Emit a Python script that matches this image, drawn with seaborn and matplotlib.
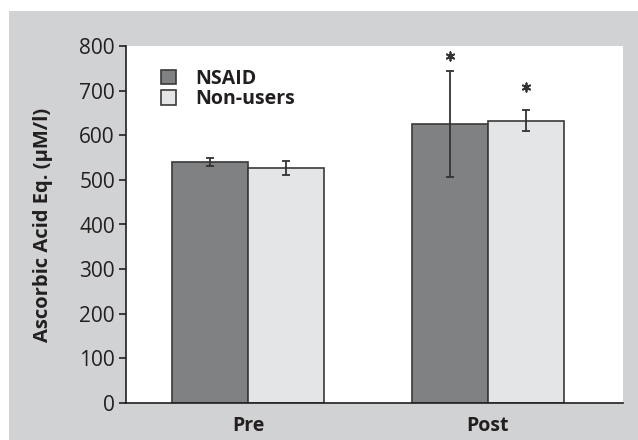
import matplotlib
matplotlib.use("Agg")
import matplotlib.pyplot as plt
from matplotlib.patches import Rectangle
import seaborn as sns
import pandas as pd

# Ascorbic acid equivalents by time point and group
timepoints = ["Pre", "Post"]
groups = ["NSAID", "Non-users"]
nsaid_mean = [540, 625]
nsaid_err = [10, 119]
nonusers_mean = [527, 633]
nonusers_err = [16, 24]
# height of the significance asterisk above each bar (None = not significant)
nsaid_star = [None, 777]
nonusers_star = [None, 709]

df = pd.DataFrame({
    "time": timepoints * 2,
    "group": [groups[0]] * 2 + [groups[1]] * 2,
    "value": nsaid_mean + nonusers_mean,
    "err": nsaid_err + nonusers_err,
    "star": nsaid_star + nonusers_star,
})

sns.set_theme(style="white")
plt.rcParams["font.family"] = ["Open Sans", "DejaVu Sans"]

fig = plt.figure(figsize=(6.38, 4.40), dpi=100, facecolor="white")
fig.patches.append(Rectangle((9 / 638, 0), 1, 1 - 11 / 440, transform=fig.transFigure,
                             facecolor="#d1d2d4", edgecolor="none", zorder=-10))
ax = fig.add_axes([126 / 638, 37 / 440, 497 / 638, 357 / 440])
ax.set_facecolor("white")

palette = {"NSAID": "#808183", "Non-users": "#e4e5e7"}
sns.barplot(data=df, x="time", y="value", hue="group", order=timepoints,
            hue_order=groups, palette=palette, width=0.633, gap=0,
            errorbar=None, edgecolor="#3a3a3a", linewidth=1.2, saturation=1,
            ax=ax)

ink = "#231f20"
for container, g in zip(ax.containers, groups):
    sub = df[df["group"] == g].set_index("time").loc[timepoints]
    for bar, (t, row) in zip(container, sub.iterrows()):
        cx = bar.get_x() + bar.get_width() / 2
        ax.errorbar(cx, row["value"], yerr=row["err"], fmt="none", ecolor="#333333",
                    elinewidth=1.3, capsize=3, capthick=1.3, zorder=5)
        if pd.notna(row["star"]):
            ax.scatter([cx], [row["star"]], marker=(6, 2, 0), s=36, color="#333333",
                       linewidths=1.3, zorder=6)

ax.set_xlim(-0.508, 1.5625)
ax.set_ylim(0, 800)
ax.set_yticks(range(0, 801, 100))
ax.set_xlabel("")
ax.set_ylabel("Ascorbic Acid Eq. (µM/l)", fontsize=14.5, fontweight="bold", color=ink,
              labelpad=19)
ax.tick_params(axis="y", which="both", left=True, length=5, width=1.2, color=ink,
               labelsize=15, labelcolor=ink, pad=3)
ax.tick_params(axis="x", bottom=False, labelsize=14, labelcolor=ink, pad=3)
for lbl in ax.get_xticklabels():
    lbl.set_fontweight("bold")

for side in ["top", "right"]:
    ax.spines[side].set_visible(False)
for side in ["left", "bottom"]:
    ax.spines[side].set_color(ink)
    ax.spines[side].set_linewidth(1.2)

handles, labels = ax.get_legend_handles_labels()
ax.legend(handles, labels, loc="upper left", bbox_to_anchor=(0.036, 0.985),
          frameon=False, prop={"size": 14, "weight": "bold"},
          handlelength=0.75, handleheight=0.75, handletextpad=1.0, labelspacing=0.02)
for t in ax.get_legend().get_texts():
    t.set_color(ink)

fig.savefig("out.png", dpi=100, facecolor=fig.get_facecolor())
